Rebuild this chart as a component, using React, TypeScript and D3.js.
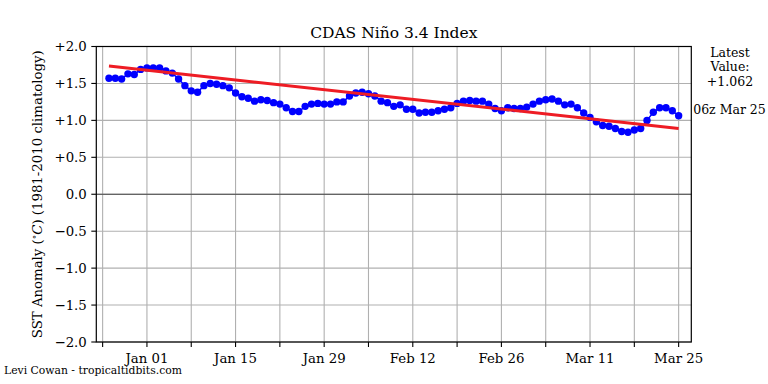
import * as d3 from 'd3'
import React from 'react'

// daily values, Dec 26 2023 .. Mar 25 2024
const startDay = Date.UTC(2023, 11, 26)
const anomalies = [
  1.57, 1.57, 1.56, 1.63, 1.62, 1.69, 1.71, 1.71, 1.71, 1.67,
  1.64, 1.56, 1.47, 1.40, 1.38, 1.47, 1.50, 1.49, 1.47, 1.44,
  1.37, 1.32, 1.30, 1.26, 1.28, 1.27, 1.24, 1.22, 1.17, 1.12,
  1.12, 1.19, 1.22, 1.23, 1.22, 1.22, 1.25, 1.25, 1.33, 1.37,
  1.38, 1.36, 1.33, 1.26, 1.24, 1.19, 1.21, 1.15, 1.15, 1.10,
  1.11, 1.11, 1.13, 1.15, 1.17, 1.23, 1.26, 1.27, 1.26, 1.26,
  1.22, 1.16, 1.13, 1.17, 1.16, 1.16, 1.18, 1.22, 1.26, 1.28,
  1.29, 1.26, 1.21, 1.22, 1.17, 1.10, 1.04, 0.98, 0.93, 0.92,
  0.89, 0.85, 0.84, 0.87, 0.89, 1.00, 1.11, 1.17, 1.17, 1.13,
  1.062,
]
// red trend line, value at first and last day
const trendEnds = [1.735, 0.89]
const yTicks = [-2, -1.5, -1, -0.5, 0, 0.5, 1, 1.5, 2]
const latestLabel = ['Latest', 'Value:', '+1.062']
const latestTime = '06z Mar 25'

const W = 768, H = 384
const M = { left: 96.3, right: 691.3, top: 46.5, bottom: 342 }
const serif = '"DejaVu Serif", serif'

export default function App() {
  const data = anomalies.map((v, i) => ({ date: new Date(startDay + i * 864e5), v }))

  const
    x = d3.scaleUtc().domain([new Date(Date.UTC(2023, 11, 24)), new Date(Date.UTC(2024, 2, 27))]).range([M.left, M.right]),
    y = d3.scaleLinear().domain([-2, 2]).range([M.bottom, M.top]),
    weeks = d3.utcMonday.range(x.domain()[0], x.domain()[1]),
    fmtY = (v: number) => (v > 0 ? '+' : '') + d3.format('.1f')(v),
    trend = [
      { date: data[0].date, v: trendEnds[0] },
      { date: data[data.length - 1].date, v: trendEnds[1] },
    ]

  const ln = d3.line<{ date: Date, v: number }>().x(d => x(d.date)).y(d => y(d.v))

  return (
    <div style={{ position: 'fixed', left: 0, top: 0 }}>
      <svg width={W} height={H} style={{ display: 'block', background: '#fff' }} fontFamily={serif}>
        {weeks.map((d, i) =>
          <line key={'g' + i} x1={x(d)} x2={x(d)} y1={M.top} y2={M.bottom} stroke='#b0b0b0' strokeWidth={1.1} />)}
        {yTicks.map(t =>
          <line key={'h' + t} x1={M.left} x2={M.right} y1={y(t)} y2={y(t)} stroke='#b0b0b0' strokeWidth={1.1} />)}
        <line x1={M.left} x2={M.right} y1={y(0)} y2={y(0)} stroke='#444' strokeWidth={1.2} />

        <path d={ln(data)!} fill='none' stroke='#0000ff' strokeWidth={1.5} />
        {data.map((d, i) => <circle key={i} cx={x(d.date)} cy={y(d.v)} r={3.7} fill='#0000ff' />)}
        <path d={ln(trend)!} fill='none' stroke='#ee1c24' strokeWidth={3} />

        <rect x={M.left} y={M.top} width={M.right - M.left} height={M.bottom - M.top} fill='none' stroke='#000' strokeWidth={1.2} />

        {yTicks.map(t =>
          <g key={'y' + t} transform={`translate(0,${y(t)})`}>
            <line x1={M.left - 5} x2={M.left} stroke='#000' strokeWidth={1.1} />
            <text x={M.left - 9.5} dy='0.36em' textAnchor='end' fontSize={13.3}>{fmtY(t)}</text>
          </g>)}
        {weeks.map((d, i) =>
          <g key={'x' + i} transform={`translate(${x(d)},0)`}>
            <line y1={M.bottom} y2={M.bottom + 5} stroke='#000' strokeWidth={1.1} />
            {i % 2 === 1 && <text y={362.5} textAnchor='middle' fontSize={13.3}>{d3.utcFormat('%b %d')(d)}</text>}
          </g>)}

        <text x={(M.left + M.right) / 2} y={38.3} textAnchor='middle' fontSize={15.5}>CDAS Niño 3.4 Index</text>
        <text transform={`translate(41.5,${(M.top + M.bottom) / 2}) rotate(-90)`} textAnchor='middle' fontSize={13.3}>
          SST Anomaly (<tspan fontSize={9} dy={-5}>∘</tspan><tspan dy={5} fontStyle='italic'>C</tspan>) (1981-2010 climatology)
        </text>

        {latestLabel.map((s, i) =>
          <text key={s} x={730} y={56.5 + i * 14.5} textAnchor='middle' fontSize={12.5}>{s}</text>)}
        <text x={729.5} y={114.3} textAnchor='middle' fontSize={12.5}>{latestTime}</text>
        <text x={4} y={374} fontSize={10.8}>Levi Cowan - tropicaltidbits.com</text>
      </svg>
    </div>
  )
}
